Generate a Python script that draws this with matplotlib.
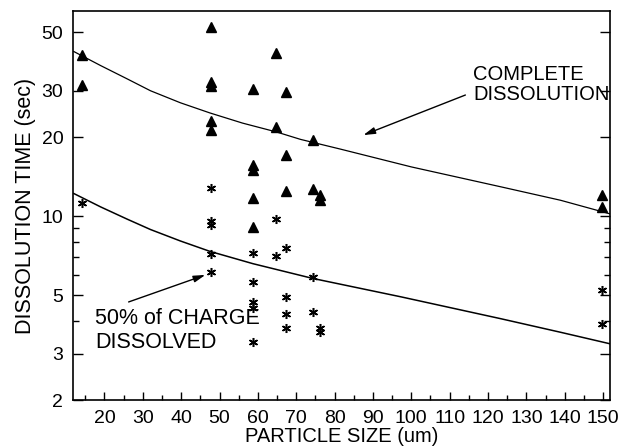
import matplotlib
matplotlib.use('Agg')
import matplotlib.pyplot as plt
from matplotlib.ticker import FixedLocator, NullFormatter

plt.rcParams['font.family'] = ['Liberation Sans', 'DejaVu Sans']

# data
tri_size = [14.2, 14.2, 47.8, 47.8, 47.8, 47.8, 47.8,
            58.7, 58.7, 58.7, 58.7, 58.7, 64.8, 64.8,
            67.4, 67.4, 67.4, 74.3, 74.3, 76.3, 76.3, 149.8, 149.8]
tri_time = [41.0, 31.5, 52.3, 32.3, 31.3, 23.0, 21.3,
            30.4, 15.6, 15.0, 11.7, 9.1, 41.8, 21.9,
            29.7, 17.1, 12.5, 19.5, 12.65, 12.0, 11.5, 12.0, 10.8]

ast_size = [14.2, 47.8, 47.8, 47.8, 47.8, 47.8,
            58.7, 58.7, 58.7, 58.7, 58.7, 64.8, 64.8,
            67.4, 67.4, 67.4, 67.4, 74.3, 74.3, 76.3, 76.3, 149.8, 149.8]
ast_time = [11.2, 12.8, 9.6, 9.3, 7.18, 6.15,
            7.26, 5.64, 4.73, 4.47, 3.33, 9.73, 7.05,
            7.55, 4.94, 4.24, 3.75, 5.86, 4.33, 3.75, 3.64, 5.24, 3.89]

full_size = [12.0, 19.0, 25.9, 32.0, 39.8, 47.5, 56.0, 64.9, 71.1, 81.5,
             100.0, 123.2, 138.9, 151.9]
full_time = [42.3, 37.4, 33.3, 30.0, 27.0, 24.7, 22.6, 20.9, 19.6, 18.0,
             15.4, 12.95, 11.5, 10.2]

half_size = [12.0, 19.0, 25.9, 32.0, 39.8, 47.5, 58.7, 74.3, 97.2, 123.2,
             138.9, 151.9]
half_time = [12.2, 10.85, 9.75, 8.9, 8.05, 7.35, 6.6, 5.8, 4.94, 4.08,
             3.62, 3.27]

x_ticks = list(range(20, 151, 10))
x_minor = list(range(15, 151, 10))
y_ticks = [2, 3, 5, 10, 20, 30, 50]
y_minor = [4, 6, 7, 8, 9]

fig = plt.figure(figsize=(6.31, 4.48), dpi=100)
ax = fig.add_axes([0.1157, 0.1071, 0.851, 0.8683])

ax.plot(full_size, full_time, color='black', lw=0.9)
ax.plot(half_size, half_time, color='black', lw=1.1)
ax.plot(tri_size, tri_time, ls='none', marker='^', ms=7, color='black')
ax.plot(ast_size, ast_time, ls='none', marker=(6, 2, 0), ms=6.5,
        mew=1.1, color='black')

ax.set_yscale('log')
ax.set_xlim(11.8, 151.8)
ax.set_ylim(2, 60.3)

ax.xaxis.set_major_locator(FixedLocator(x_ticks))
ax.xaxis.set_minor_locator(FixedLocator(x_minor))
ax.yaxis.set_major_locator(FixedLocator(y_ticks))
ax.yaxis.set_minor_locator(FixedLocator(y_minor))
ax.set_yticklabels([str(v) for v in y_ticks])
ax.yaxis.set_minor_formatter(NullFormatter())

ax.tick_params(axis='x', which='both', direction='in', top=False, labelsize=14, pad=7)
ax.tick_params(axis='x', which='major', length=6, width=1)
ax.tick_params(axis='x', which='minor', length=3.5, width=1)
ax.tick_params(axis='y', which='both', direction='in', right=True, labelsize=14, pad=7)
ax.tick_params(axis='y', which='major', length=7, width=1)
ax.tick_params(axis='y', which='minor', length=4, width=1)

for s in ax.spines.values():
    s.set_linewidth(1.2)

ax.set_xlabel('PARTICLE SIZE (um)', fontsize=14.5, labelpad=0)
ax.set_ylabel('DISSOLUTION TIME (sec)', fontsize=15.5, labelpad=4)

arrow = dict(arrowstyle='-|>,head_length=0.7,head_width=0.2', color='black',
             lw=1.0, shrinkA=0, shrinkB=0)
ax.annotate('', xy=(87.5, 20.35), xytext=(114.1, 28.9), arrowprops=arrow)
ax.annotate('', xy=(46.3, 5.98), xytext=(26.3, 4.72), arrowprops=arrow)

ax.text(116.2, 32.9, 'COMPLETE', fontsize=14.5, va='baseline', ha='left')
ax.text(116.2, 27.65, 'DISSOLUTION', fontsize=14.5, va='baseline', ha='left')
ax.text(17.65, 3.89, '50% of CHARGE', fontsize=15.5, va='baseline', ha='left')
ax.text(17.65, 3.15, 'DISSOLVED', fontsize=15.5, va='baseline', ha='left')

fig.savefig('out.png', dpi=100)
